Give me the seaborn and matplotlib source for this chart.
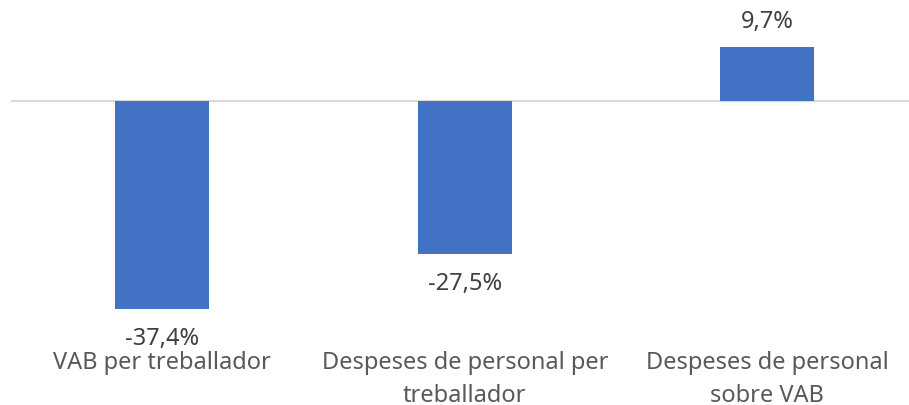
import matplotlib
matplotlib.use('Agg')
import matplotlib.pyplot as plt
import seaborn as sns
import pandas as pd

# dades
categories = ['VAB per treballador',
              'Despeses de personal per\ntreballador',
              'Despeses de personal\nsobre VAB']
valors = [-37.4, -27.5, 9.7]
etiquetes = ['-37,4%', '-27,5%', '9,7%']

df = pd.DataFrame({'cat': categories, 'val': valors})

sns.set_style('white')
plt.rcParams['font.family'] = ['Noto Sans', 'DejaVu Sans']

fig = plt.figure(figsize=(9.09, 4.06), dpi=100)
ax = fig.add_axes([11 / 909, 0.201, 907.5 / 909, 0.753])

sns.barplot(data=df, x='cat', y='val', color='#4472C4', width=0.31,
            saturation=1, linewidth=0, ax=ax)

ax.set_ylim(-40, 15)
ax.axhline(0, color='#D9D9D9', linewidth=1.5, zorder=0)

for bar, txt, v in zip(ax.patches, etiquetes, valors):
    x = bar.get_x() + bar.get_width() / 2
    if v >= 0:
        ax.annotate(txt, (x, v), xytext=(0, 10), textcoords='offset points',
                    ha='center', va='bottom', fontsize=17, color='#404040')
    else:
        ax.annotate(txt, (x, v), xytext=(0, -12), textcoords='offset points',
                    ha='center', va='top', fontsize=17, color='#404040')

ax.set_xlabel('')
ax.set_ylabel('')
ax.set_yticks([])
ax.tick_params(axis='x', length=0, pad=19.5, labelsize=17, labelcolor='#595959')
for lbl in ax.get_xticklabels():
    lbl.set_linespacing(1.45)
for s in ax.spines.values():
    s.set_visible(False)

fig.savefig('out.png', dpi=100)
